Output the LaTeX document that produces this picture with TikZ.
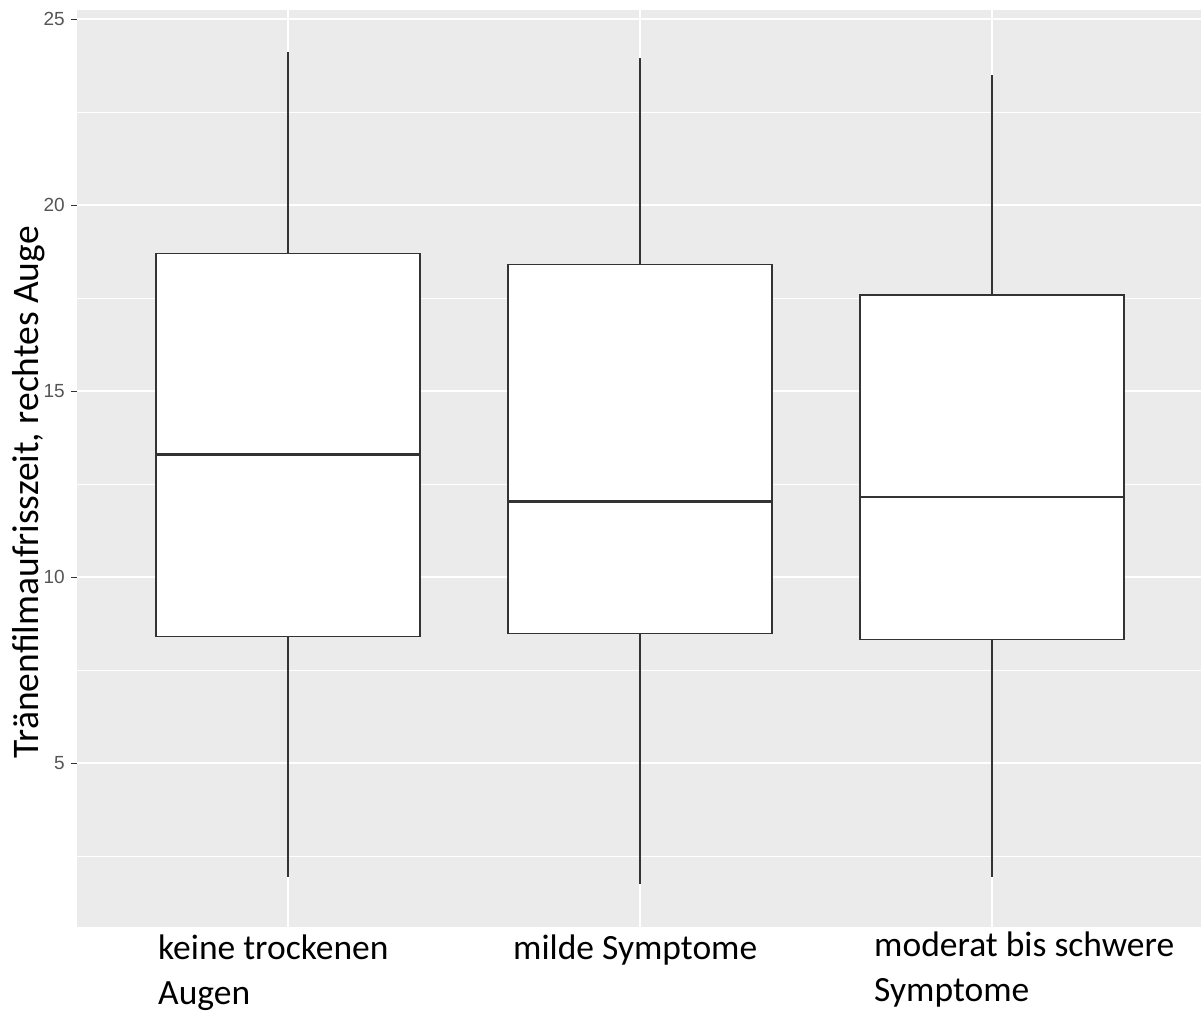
\documentclass[tikz,border=0pt]{standalone}
\usepackage{fontspec}
\setmainfont{Carlito}
\newfontfamily\ticksfont{Liberation Sans}
\definecolor{panelgray}{HTML}{EBEBEB}
\definecolor{boxline}{HTML}{333333}
\definecolor{ticktext}{HTML}{555555}
\tikzset{
  majorgrid/.style={white, line width=1.4pt},
  minorgrid/.style={white, line width=0.7pt},
  boxframe/.style={draw=boxline, fill=white, line width=1.2pt},
  whisker/.style={boxline, line width=1.1pt},
  medianline/.style={boxline, line width=2.8pt},
  ticklabel/.style={font=\ticksfont\fontsize{19}{19}\selectfont, text=ticktext, anchor=east, inner sep=0pt},
  catlabel/.style={font=\fontsize{35.5}{45}\selectfont, align=left, anchor=north west, inner sep=0pt},
}

\begin{document}
\begin{tikzpicture}[x=1pt, y=37.2pt]
    \useasboundingbox (0,-1.694) rectangle (1201,25.511);

    % Panel and grid
    \fill[panelgray] (77,0.59) rectangle (1201,25.24);
    \foreach \v in {2.5,7.5,...,22.5}
        \draw[minorgrid] (77,\v) -- (1201,\v);
    \foreach \v in {5,10,...,25}
        \draw[majorgrid] (77,\v) -- (1201,\v);
    \foreach \x in {288,640,992}
        \draw[majorgrid] (\x,0.59) -- (\x,25.24);

    % Axis ticks
    \foreach \v in {5,10,...,25} {
        \draw[boxline, line width=0.8pt] (71,\v) -- (77,\v);
        \node[ticklabel] (tick\v) at (65,\v) {\v};
    }

    % Boxes: centre / lower whisker / Q1 / median / Q3 / upper whisker
    \foreach \x/\lo/\qa/\md/\qc/\hi in {288/1.94/8.4/13.3/18.7/24.1,
                                        640/1.75/8.49/12.04/18.4/23.95,
                                        992/1.94/8.33/12.15/17.58/23.5} {
        \draw[whisker] (\x,\lo) -- (\x,\hi);
        \draw[boxframe] (\x-132,\qa) rectangle (\x+132,\qc);
        \draw[medianline] (\x-132,\md) -- (\x+132,\md);
    }

    % Labels
    \node[catlabel] (lblnone) at (158,0.376) {keine trockenen\\Augen};
    \node[catlabel] (lblmild) at (513,0.376) {milde Symptome};
    \node[catlabel] (lblsevere) at (874,0.48) {moderat bis schwere\\Symptome};
    \node[rotate=90, anchor=base, font=\fontsize{37.5}{37.5}\selectfont, inner sep=0pt] (ylabel) at (38,12.28) {Tränenfilmaufrisszeit, rechtes Auge};
\end{tikzpicture}
\end{document}
